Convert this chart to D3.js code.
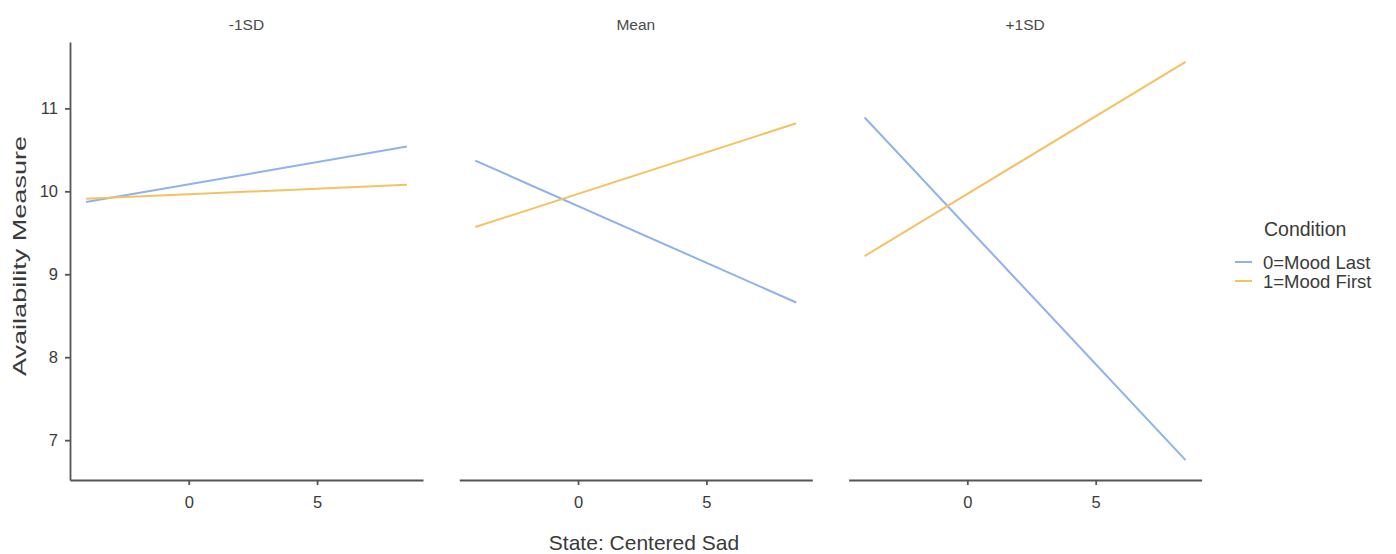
<!DOCTYPE html>
<html>
<head>
<meta charset="utf-8">
<script src="https://cdn.jsdelivr.net/npm/d3@7"></script>
<style>
  html, body { margin: 0; padding: 0; background: #fff; }
  svg { display: block; font-family: "Liberation Sans", Arial, Helvetica, sans-serif; }
</style>
</head>
<body>
<svg id="chart" width="1396" height="554"></svg>
<script>
// Facet panels (moderator level) and conditions
const panels = ["-1SD", "Mean", "+1SD"];
const conditions = ["0=Mood Last", "1=Mood First"];
const conditionColors = ["#8fb1ee", "#f3c261"];

// Predicted values at the ends of the sad-state range
const xEnds = [-4, 8.5];
const moodLast = [[9.87, 10.54], [10.37, 8.66], [10.89, 6.76]];
const moodFirst = [[9.91, 10.08], [9.57, 10.82], [9.22, 11.56]];

const xTicks = [0, 5];
const yTicks = [7, 8, 9, 10, 11];

const svg = d3.select("#chart");

const panelW = 353, gap = 36.3, left0 = 70;
const plotTop = 42, plotBottom = 480;

// ggplot-style 5% expansion of the data ranges
const allY = moodLast.flat().concat(moodFirst.flat());
const yMin = d3.min(allY), yMax = d3.max(allY);
const yPad = (yMax - yMin) * 0.05;
const xPad = (xEnds[1] - xEnds[0]) * 0.05;

const x = d3.scaleLinear().domain([xEnds[0] - xPad, xEnds[1] + xPad]).range([0, panelW]);
const y = d3.scaleLinear().domain([yMin - yPad, yMax + yPad]).range([plotBottom, plotTop]);

const axisColor = "#555";
const textColor = "#3a3a3a";

const line = d3.line().x(d => x(d[0])).y(d => y(d[1]));

panels.forEach((name, i) => {
  const g = svg.append("g").attr("transform", `translate(${left0 + i * (panelW + gap)},0)`);

  // strip label
  g.append("text")
    .attr("x", panelW / 2).attr("y", 30)
    .attr("text-anchor", "middle")
    .attr("font-size", 15.5).attr("fill", "#4a4a4a")
    .text(name);

  // condition lines
  [moodLast[i], moodFirst[i]].forEach((vals, k) => {
    g.append("path")
      .datum(xEnds.map((xv, j) => [xv, vals[j]]))
      .attr("d", line)
      .attr("fill", "none")
      .attr("stroke", conditionColors[k])
      .attr("stroke-width", 2);
  });

  // x axis
  const xa = g.append("g").attr("transform", `translate(0,${plotBottom})`)
    .call(d3.axisBottom(x).tickValues(xTicks).tickFormat(d3.format("d"))
      .tickSize(5).tickPadding(11).tickSizeOuter(0));
  xa.select(".domain").attr("stroke", axisColor).attr("stroke-width", 1.8);
  xa.selectAll(".tick line").attr("stroke", axisColor).attr("stroke-width", 1.8);
  xa.selectAll(".tick text").attr("font-size", 16.5).attr("fill", textColor)
    .attr("font-family", "Liberation Sans, Arial, sans-serif");

  if (i === 0) {
    const ya = g.append("g")
      .call(d3.axisLeft(y).tickValues(yTicks).tickFormat(d3.format("d"))
        .tickSize(5).tickPadding(7).tickSizeOuter(0));
    ya.select(".domain").attr("stroke", axisColor).attr("stroke-width", 1.8);
    ya.selectAll(".tick line").attr("stroke", axisColor).attr("stroke-width", 1.8);
    ya.selectAll(".tick text").attr("font-size", 16.5).attr("fill", textColor)
      .attr("font-family", "Liberation Sans, Arial, sans-serif");
  }
});

// axis titles
svg.append("text")
  .attr("x", 644).attr("y", 550)
  .attr("text-anchor", "middle")
  .attr("font-size", 21).attr("fill", textColor)
  .text("State: Centered Sad");

svg.append("text")
  .attr("transform", "translate(26,256) rotate(-90)")
  .attr("text-anchor", "middle")
  .attr("font-size", 19).attr("fill", textColor)
  .attr("textLength", 240).attr("lengthAdjust", "spacingAndGlyphs")
  .text("Availability Measure");

// legend
const lg = svg.append("g").attr("transform", "translate(1235,0)");
lg.append("text")
  .attr("x", 29).attr("y", 236)
  .attr("font-size", 19.5).attr("fill", textColor)
  .text("Condition");
conditions.forEach((c, k) => {
  const yy = 262 + k * 19;
  lg.append("line")
    .attr("x1", 0).attr("x2", 17).attr("y1", yy).attr("y2", yy)
    .attr("stroke", conditionColors[k]).attr("stroke-width", 2);
  lg.append("text")
    .attr("x", 28).attr("y", yy + 6.5)
    .attr("font-size", 18.5).attr("fill", textColor)
    .text(c);
});
</script>
</body>
</html>
